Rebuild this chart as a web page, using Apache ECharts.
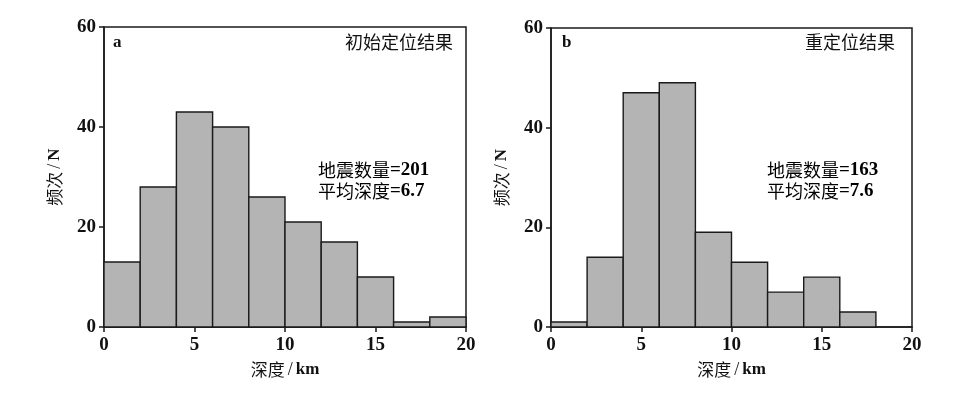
<!DOCTYPE html>
<html><head><meta charset="utf-8">
<script src="https://cdn.jsdelivr.net/npm/echarts@6/dist/echarts.min.js"></script>
<style>html,body{margin:0;padding:0;background:#fff}#c{width:953px;height:393px}</style>
</head><body><div id="c"></div>
<script>
var binEdges = [0, 2, 4, 6, 8, 10, 12, 14, 16, 18, 20];
var countsA = [13, 28, 43, 40, 26, 21, 17, 10, 1, 2];
var countsB = [1, 14, 47, 49, 19, 13, 7, 10, 3, 0];
var xTicks = [0, 5, 10, 15, 20];
var yTicks = [0, 20, 40, 60];
var panelLetters = ['a', 'b'];
var panelTitles = ['初始定位结果', '重定位结果'];
var statNames = ['地震数量', '平均深度'];
var statValues = [['=201', '=6.7'], ['=163', '=7.6']];
var xNameParts = ['深度', '/', 'km'];
var yNameParts = ['频次', '/', 'N'];

var serif = '"Liberation Serif","DejaVu Serif",serif';
var cjk = '"Noto Sans CJK SC","Liberation Serif",serif';
var grids = [
  {left: 104, top: 27, width: 362, height: 300},
  {left: 551, top: 28, width: 361, height: 299}
];

function binData(counts) {
  return counts.map(function (c, i) { return [binEdges[i], binEdges[i + 1], c]; });
}
function renderBin(params, api) {
  var p0 = api.coord([api.value(0), 0]);
  var p1 = api.coord([api.value(1), api.value(2)]);
  if (api.value(2) <= 0) return null;
  return {
    type: 'rect',
    shape: {x: p0[0], y: p1[1], width: p1[0] - p0[0], height: p0[1] - p1[1]},
    style: {fill: '#b4b4b4', stroke: '#1a1a1a', lineWidth: 1.4}
  };
}
var nameRich = {
  c: {fontFamily: cjk, fontSize: 17, color: '#111'},
  s: {fontFamily: serif, fontSize: 18, color: '#111', padding: [0, 3, 0, 3]},
  l: {fontFamily: serif, fontSize: 17, fontWeight: 'bold', color: '#111'}
};
function richName(p) { return '{c|' + p[0] + '}{s|' + p[1] + '}{l|' + p[2] + '}'; }

var xAxes = [], yAxes = [], series = [];
[0, 1].forEach(function (i) {
  xAxes.push({
    type: 'value', gridIndex: i, min: xTicks[0], max: xTicks[xTicks.length - 1], interval: 5,
    name: richName(xNameParts), nameLocation: 'middle', nameGap: 34,
    nameTextStyle: {rich: nameRich},
    axisLine: {lineStyle: {color: '#1a1a1a', width: 1.5}},
    axisTick: {show: true, length: 5, inside: false, lineStyle: {color: '#1a1a1a', width: 1.5}},
    axisLabel: {fontFamily: serif, fontSize: 19, fontWeight: 'bold', color: '#111', margin: 9},
    splitLine: {show: false}
  });
  yAxes.push({
    type: 'value', gridIndex: i, min: yTicks[0], max: yTicks[yTicks.length - 1], interval: 20,
    name: richName(yNameParts), nameLocation: 'middle', nameGap: 40, nameRotate: 90,
    nameTextStyle: {rich: nameRich},
    axisLine: {lineStyle: {color: '#1a1a1a', width: 1.5}},
    axisTick: {show: true, length: 5, inside: false, lineStyle: {color: '#1a1a1a', width: 1.5}},
    axisLabel: {fontFamily: serif, fontSize: 19, fontWeight: 'bold', color: '#111', margin: 8},
    splitLine: {show: false}
  });
  series.push({
    type: 'custom', xAxisIndex: i, yAxisIndex: i,
    data: binData(i === 0 ? countsA : countsB),
    renderItem: renderBin, silent: true
  });
});

var gridOpts = grids.map(function (g) {
  return Object.assign({show: true, borderColor: '#1a1a1a', borderWidth: 1.5, backgroundColor: 'transparent'}, g);
});

var letterPos = [[118, 44], [567, 44]];
var titleRight = [453, 895];
var statLeft = [318, 767];
var statRich = {
  c: {fontFamily: cjk, fontSize: 18, color: '#111', lineHeight: 21},
  n: {fontFamily: serif, fontSize: 19, fontWeight: 'bold', color: '#111', lineHeight: 21}
};
var graphics = [];
[0, 1].forEach(function (i) {
  graphics.push({type: 'text', left: letterPos[i][0] - 5, top: letterPos[i][1] - 10,
    style: {text: panelLetters[i], font: 'bold 17px ' + serif, fill: '#111'}});
  graphics.push({type: 'text', right: 953 - titleRight[i], top: 33,
    style: {text: panelTitles[i], font: '18px ' + cjk, fill: '#111'}});
  graphics.push({type: 'text', left: statLeft[i], top: 161,
    style: {text: '{c|' + statNames[0] + '}{n|' + statValues[i][0] + '}\n{c|' + statNames[1] + '}{n|' + statValues[i][1] + '}',
      rich: statRich}});
});

var chart = echarts.init(document.getElementById('c'), null, {renderer: 'canvas'});
chart.setOption({
  animation: false,
  backgroundColor: '#fff',
  grid: gridOpts,
  xAxis: xAxes,
  yAxis: yAxes,
  series: series,
  graphic: graphics
});
</script></body></html>
